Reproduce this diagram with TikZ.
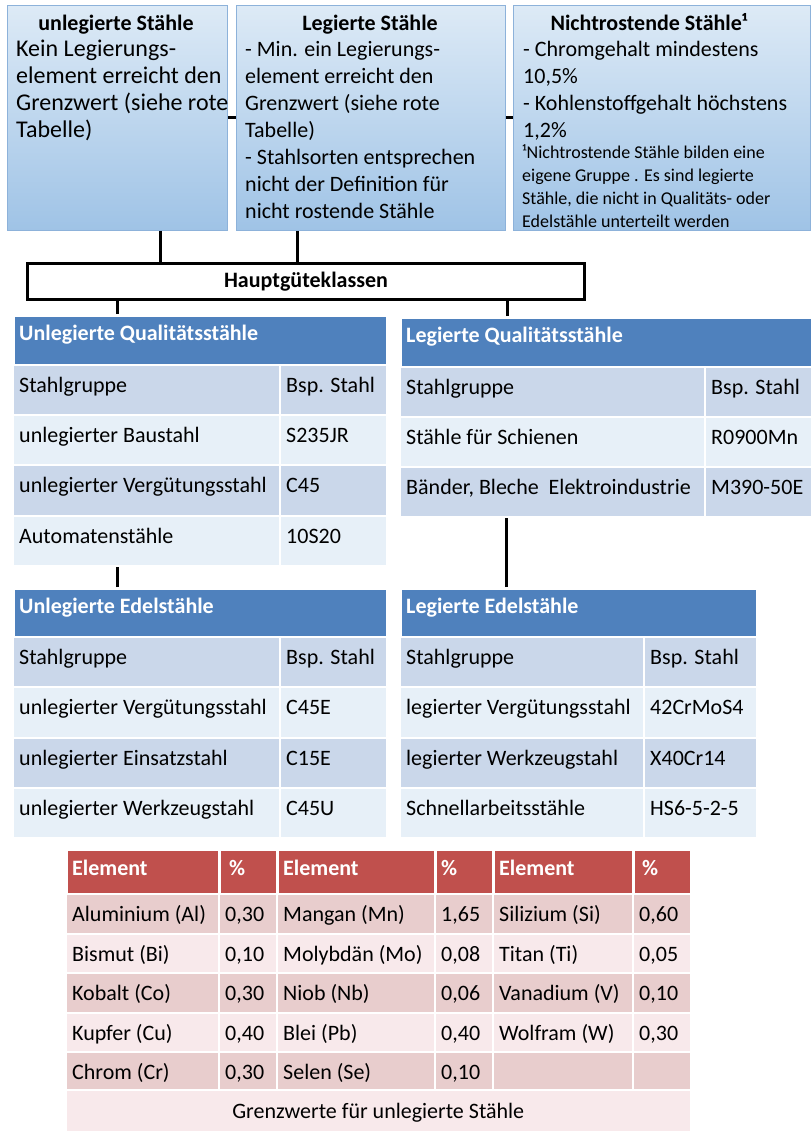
\documentclass[tikz,border=0pt]{standalone}
\usepackage{fontspec}
\setmainfont{Carlito}
\usetikzlibrary{calc}
\definecolor{hblue}{HTML}{4F81BD}
\definecolor{bdark}{HTML}{CAD7EA}
\definecolor{blight}{HTML}{E7F0F8}
\definecolor{rhdr}{HTML}{C0504D}
\definecolor{rdark}{HTML}{E8CDCD}
\definecolor{rlight}{HTML}{F8E9EB}
\definecolor{boxtop}{HTML}{DDEAF6}
\definecolor{boxbot}{HTML}{9FC3E6}
\definecolor{boxedge}{HTML}{8DB2DA}
\newcommand\tcell[9]{%
  \pgfmathsetmacro\mycw{#4-#2}\pgfmathsetmacro\mych{#5-#3}%
  \node[cellbg, #6, minimum width=\mycw pt, minimum height=\mych pt] (#1) at (#2,#3) {};%
  \node[#7, anchor=base west] (#1t) at ([shift={(7pt,-#8pt)}]#1.north west) {#9};%
}
\newcommand\brow[6]{%
  \tcell{#1a}{#2}{\ya}{#3}{\yb}{rowfill}{rowtxt}{\ro}{#5}%
  \tcell{#1b}{#3}{\ya}{#4}{\yb}{rowfill}{rowtxt}{\ro}{#6}%
}
\newcommand\rrow[7]{%
  \tcell{#1a}{65}{\ya}{218}{\yb}{rowfill}{rowtxt}{\ro}{#2}%
  \tcell{#1b}{218}{\ya}{276}{\yb}{rowfill}{rowtxt}{\ro}{#3}%
  \tcell{#1c}{276}{\ya}{434}{\yb}{rowfill}{rowtxt}{\ro}{#4}%
  \tcell{#1d}{434}{\ya}{492}{\yb}{rowfill}{rowtxt}{\ro}{#5}%
  \tcell{#1e}{492}{\ya}{632}{\yb}{rowfill}{rowtxt}{\ro}{#6}%
  \tcell{#1f}{632}{\ya}{690}{\yb}{rowfill}{rowtxt}{\ro}{#7}%
}
\tikzset{
  cellbg/.style={draw=white, line width=1.5pt, inner sep=0pt, anchor=north west},
  hdrtxt/.style={font=\fontsize{22}{26}\selectfont\bfseries, text=white, inner sep=0pt},
  celltxt/.style={font=\fontsize{22}{26}\selectfont, text=black, inner sep=0pt},
  topbox/.style={draw=boxedge, line width=0.8pt, top color=boxtop, bottom color=boxbot, inner sep=0pt, anchor=north west},
  bodytxt/.style={font=\fontsize{24}{27}\selectfont, inner sep=0pt, anchor=base west},
  bodytxtb/.style={font=\fontsize{22}{27}\selectfont, inner sep=0pt, anchor=base west},
  titletxt/.style={font=\fontsize{22}{26}\selectfont\bfseries, inner sep=0pt, anchor=base},
  foottxt/.style={font=\fontsize{18}{22}\selectfont, inner sep=0pt, anchor=base west},
  conn/.style={draw=black, line width=3.5pt},
  hconn/.style={draw=black, line width=3pt},
  hdrfill/.style={fill=hblue, line width=2.5pt},
}
\begin{document}
\begin{tikzpicture}[x=1pt,y=-1pt]
\useasboundingbox (0,0) rectangle (811,1131);
\fill[white] (0,0) rectangle (811,1131);

% top boxes
\node[topbox, minimum width=220pt, minimum height=225pt] (b1) at (7,5) {};
\node[topbox, minimum width=269pt, minimum height=225pt] (b2) at (236,5) {};
\node[topbox, minimum width=297pt, minimum height=225pt] (b3) at (513,5) {};
\draw[hconn] (b1.east) -- (b2.west);
\draw[hconn] (b2.east) -- (b3.west);

\node[titletxt] (b1title) at (116,31) {unlegierte Stähle};
\node[titletxt] (b2title) at (370,31) {Legierte Stähle};
\node[titletxt] (b3title) at (649,31) {Nichtrostende Stähle¹};

\foreach \t [count=\i] in {{Kein Legierungs-},{element erreicht den},{Grenzwert (siehe rote},{Tabelle)}}
  \node[bodytxt] (b1l\i) at (16,{57+27*(\i-1)}) {\t};
\foreach \t [count=\i] in {{- Min. ein Legierungs-},{element erreicht den},{Grenzwert (siehe rote},{Tabelle)},{- Stahlsorten entsprechen},{nicht der Definition für},{nicht rostende Stähle}}
  \node[bodytxtb] (b2l\i) at (245,{57+27*(\i-1)}) {\t};
\foreach \t [count=\i] in {{- Chromgehalt mindestens},{10,5\%},{- Kohlenstoffgehalt höchstens},{1,2\%}}
  \node[bodytxtb] (b3l\i) at (523,{57+27*(\i-1)}) {\t};
\foreach \t [count=\i] in {{¹Nichtrostende Stähle bilden eine},{eigene Gruppe . Es sind legierte},{Stähle, die nicht in Qualitäts- oder},{Edelstähle unterteilt werden}}
  \node[foottxt] (b3f\i) at (522,{159+22.7*(\i-1)}) {\t};

% Hauptgueteklassen
\node[draw=black, line width=3pt, fill=white, minimum width=557pt, minimum height=36pt, inner sep=0pt, anchor=north west, font=\fontsize{22}{26}\selectfont\bfseries] (hk) at (26,262) {Hauptgüteklassen};
\draw[conn] ([xshift=43pt]b1.south) -- ([xshift=43pt]b1.south |- hk.north);
\draw[conn] ([xshift=-73.5pt]b2.south) -- ([xshift=-73.5pt]b2.south |- hk.north);

% Table 1
\tcell{t1h}{12}{314}{386}{364}{hdrfill}{hdrtxt}{26}{Unlegierte Qualitätsstähle}
\def\ro{28}
\tikzset{rowtxt/.style={celltxt}}
\tikzset{rowfill/.style={fill=bdark}}\def\ya{364}\def\yb{414}\brow{t1r1}{12}{279}{386}{Stahlgruppe}{Bsp. Stahl}
\tikzset{rowfill/.style={fill=blight}}\def\ya{414}\def\yb{464}\brow{t1r2}{12}{279}{386}{unlegierter Baustahl}{S235JR}
\tikzset{rowfill/.style={fill=bdark}}\def\ya{464}\def\yb{515}\brow{t1r3}{12}{279}{386}{unlegierter Vergütungsstahl}{C45}
\tikzset{rowfill/.style={fill=blight}}\def\ya{515}\def\yb{565}\brow{t1r4}{12}{279}{386}{Automatenstähle}{10S20}

% Table 2
\tcell{t2h}{399}{316}{811}{366}{hdrfill}{hdrtxt}{26}{Legierte Qualitätsstähle}
\tikzset{rowfill/.style={fill=bdark}}\def\ya{366}\def\yb{416}\brow{t2r1}{399}{704}{811}{Stahlgruppe}{Bsp. Stahl}
\tikzset{rowfill/.style={fill=blight}}\def\ya{416}\def\yb{466}\brow{t2r2}{399}{704}{811}{Stähle für Schienen}{R0900Mn}
\tikzset{rowfill/.style={fill=bdark}}\def\ya{466}\def\yb{516}\brow{t2r3}{399}{704}{811}{Bänder, Bleche~ Elektroindustrie}{M390-50E}

% Table 3
\tcell{t3h}{12}{587}{386}{636}{hdrfill}{hdrtxt}{26}{Unlegierte Edelstähle}
\tikzset{rowfill/.style={fill=bdark}}\def\ya{636}\def\yb{686}\brow{t3r1}{12}{279}{386}{Stahlgruppe}{Bsp. Stahl}
\tikzset{rowfill/.style={fill=blight}}\def\ya{686}\def\yb{737}\brow{t3r2}{12}{279}{386}{unlegierter Vergütungsstahl}{C45E}
\tikzset{rowfill/.style={fill=bdark}}\def\ya{737}\def\yb{787}\brow{t3r3}{12}{279}{386}{unlegierter Einsatzstahl}{C15E}
\tikzset{rowfill/.style={fill=blight}}\def\ya{787}\def\yb{837}\brow{t3r4}{12}{279}{386}{unlegierter Werkzeugstahl}{C45U}

% Table 4
\tcell{t4h}{399}{587}{756}{636}{hdrfill}{hdrtxt}{26}{Legierte Edelstähle}
\tikzset{rowfill/.style={fill=bdark}}\def\ya{636}\def\yb{686}\brow{t4r1}{399}{643}{756}{Stahlgruppe}{Bsp. Stahl}
\tikzset{rowfill/.style={fill=blight}}\def\ya{686}\def\yb{737}\brow{t4r2}{399}{643}{756}{legierter Vergütungsstahl}{42CrMoS4}
\tikzset{rowfill/.style={fill=bdark}}\def\ya{737}\def\yb{787}\brow{t4r3}{399}{643}{756}{legierter Werkzeugstahl}{X40Cr14}
\tikzset{rowfill/.style={fill=blight}}\def\ya{787}\def\yb{837}\brow{t4r4}{399}{643}{756}{Schnellarbeitsstähle}{HS6-5-2-5}

% connectors between tables
\draw[conn] ([xshift=-83pt]t1h.north) -- ([xshift=-83pt]t1h.north |- hk.south);
\draw[conn] ([xshift=-99pt]t2h.north) -- ([xshift=-99pt]t2h.north |- hk.south);
\draw[conn] ([xshift=-83pt]t3h.north) -- ([xshift=-83pt]t3h.north |- t1r4a.south);
\draw[conn] ([xshift=-72.5pt]t4h.north) -- ([xshift=-72.5pt]t4h.north |- t2r3a.south);

% red table
\tikzset{rowtxt/.style={hdrtxt}, rowfill/.style={fill=rhdr, line width=2.5pt}}
\def\ro{27}\def\ya{848}\def\yb{893}
\rrow{rh}{Element}{\hspace{4pt}\%}{Element}{\%}{Element}{\hspace{3pt}\%}
\tikzset{rowtxt/.style={celltxt}}
\def\ro{28}
\tikzset{rowfill/.style={fill=rdark}}\def\ya{893}\def\yb{933}\rrow{r1}{Aluminium (Al)}{0,30}{Mangan (Mn)}{1,65}{Silizium (Si)}{0,60}
\tikzset{rowfill/.style={fill=rlight}}\def\ya{933}\def\yb{972}\rrow{r2}{Bismut (Bi)}{0,10}{Molybdän (Mo)}{0,08}{Titan (Ti)}{0,05}
\tikzset{rowfill/.style={fill=rdark}}\def\ya{972}\def\yb{1012}\rrow{r3}{Kobalt (Co)}{0,30}{Niob (Nb)}{0,06}{Vanadium (V)}{0,10}
\tikzset{rowfill/.style={fill=rlight}}\def\ya{1012}\def\yb{1051}\rrow{r4}{Kupfer (Cu)}{0,40}{Blei (Pb)}{0,40}{Wolfram (W)}{0,30}
\tikzset{rowfill/.style={fill=rdark}}\def\ya{1051}\def\yb{1089}\rrow{r5}{Chrom (Cr)}{0,30}{Selen (Se)}{0,10}{}{}
\node[cellbg, fill=rlight, minimum width=625pt, minimum height=42pt] (rfoot) at (65,1089) {};
\node[celltxt, anchor=base] (rfoott) at ([yshift=-29pt]rfoot.north) {Grenzwerte für unlegierte Stähle};
\end{tikzpicture}
\end{document}
